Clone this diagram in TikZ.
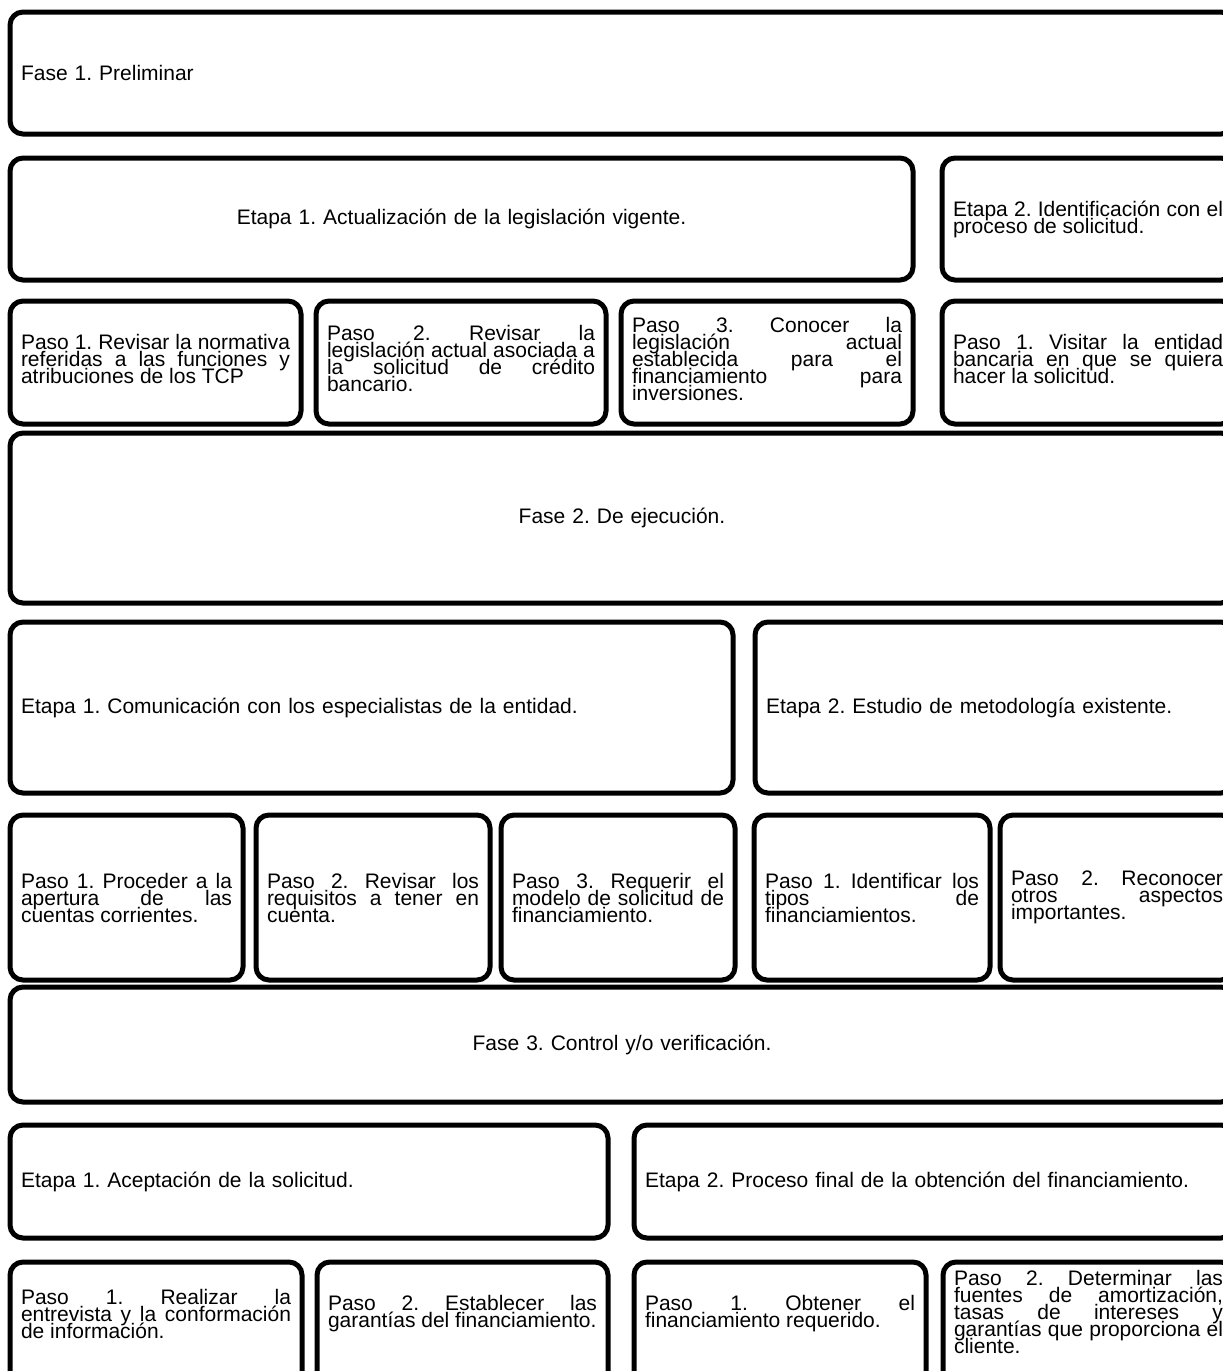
\documentclass[tikz,border=0pt]{standalone}
\usepackage{fontspec}
\setmainfont{Liberation Sans}

\tikzset{
	caja/.style = {draw, line width = 5pt, rounded corners = 13pt,
		inner xsep = 11pt, inner ysep = 0pt, outer sep = 0pt, align = justify, font = \textoitem},
	texto/.style = {inner sep = 0pt, align = justify, font = \textoitem}
}
\newcommand{\textoitem}{\fontsize{21}{17}\selectfont\frenchspacing\lineskiplimit=-50pt\hyphenpenalty=10000\tolerance=9999\relax}
\newcommand{\subir}{\par\kern 8pt\relax}

\begin{document}
\begin{tikzpicture}[x = 1pt, y = -1pt]

	\useasboundingbox (0, 0) rectangle (1223, 1371);
	\clip (0, 0) rectangle (1223, 1371);

	% Fase 1
	
	\node [caja, minimum width = 1224pt, minimum height = 122pt, text width = 1202pt, align = left] (fase1) at (622, 73) {Fase 1. Preliminar};
	
	\node [caja, minimum width = 903pt, minimum height = 122pt, text width = 881pt, align = center] (etapa11) at (461.5, 219) {Etapa 1. Actualización de la legislación vigente.};
	\node [caja, minimum width = 292pt, minimum height = 122pt, text width = 270pt] (etapa12) at (1088, 219) {Etapa 2. Identificación con el\linebreak proceso de solicitud.};
	
	\node [caja, minimum width = 291pt, minimum height = 123pt, text width = 269pt] (paso111) at (155.5, 362.5) {Paso 1. Revisar la normativa\linebreak referidas a las funciones y\linebreak atribuciones de los TCP\subir};
	\node [caja, minimum width = 290pt, minimum height = 123pt, text width = 268pt] (paso112) at (461, 362.5) {Paso 2. Revisar la\linebreak legislación actual asociada a\linebreak la solicitud de crédito\linebreak bancario.\subir};
	\node [caja, minimum width = 292pt, minimum height = 123pt, text width = 270pt] (paso113) at (767, 362.5) {Paso 3. Conocer la\linebreak legislación actual\linebreak establecida para el\linebreak financiamiento para\linebreak inversiones.\subir};
	\node [caja, minimum width = 292pt, minimum height = 123pt, text width = 270pt] (paso121) at (1088, 362.5) {Paso 1. Visitar la entidad\linebreak bancaria en que se quiera\linebreak hacer la solicitud.\subir};
	
	% Fase 2
	
	\node [caja, minimum width = 1224pt, minimum height = 170pt, text width = 1202pt, align = center] (fase2) at (622, 518) {Fase 2. De ejecución.};
	
	\node [caja, minimum width = 723pt, minimum height = 171pt, text width = 701pt, align = left] (etapa21) at (371.5, 707.5) {Etapa 1. Comunicación con los especialistas de la entidad.};
	\node [caja, minimum width = 479pt, minimum height = 171pt, text width = 457pt, align = left] (etapa22) at (994.5, 707.5) {Etapa 2. Estudio de metodología existente.};
	
	\node [caja, minimum width = 233pt, minimum height = 165pt, text width = 211pt] (paso211) at (126.5, 897.5) {Paso 1. Proceder a la\linebreak apertura de las\linebreak cuentas corrientes.};
	\node [caja, minimum width = 234pt, minimum height = 165pt, text width = 212pt] (paso212) at (373, 897.5) {Paso 2. Revisar los\linebreak requisitos a tener en\linebreak cuenta.};
	\node [caja, minimum width = 234pt, minimum height = 165pt, text width = 212pt] (paso213) at (618, 897.5) {Paso 3. Requerir el\linebreak modelo de solicitud de\linebreak financiamiento.};
	\node [caja, minimum width = 236pt, minimum height = 165pt, text width = 214pt] (paso221) at (872, 897.5) {Paso 1. Identificar los\linebreak tipos de\linebreak financiamientos.};
	\node [caja, minimum width = 234pt, minimum height = 165pt, text width = 212pt] (paso222) at (1117, 897.5) {Paso 2. Reconocer\linebreak otros aspectos\linebreak importantes.};
	
	% Fase 3
	
	\node [caja, minimum width = 1224pt, minimum height = 115pt, text width = 1202pt, align = center] (fase3) at (622, 1044.5) {Fase 3. Control y/o verificación.};
	
	\node [caja, minimum width = 598pt, minimum height = 113pt, text width = 576pt, align = left] (etapa31) at (309, 1181.5) {Etapa 1. Aceptación de la solicitud.};
	\node [caja, minimum width = 600pt, minimum height = 113pt, text width = 578pt, align = left] (etapa32) at (934, 1181.5) {Etapa 2. Proceso final de la obtención del financiamiento.};
	
	\node [caja, minimum width = 292pt, minimum height = 158pt] (paso311) at (156, 1341) {};
	\node [caja, minimum width = 291pt, minimum height = 158pt] (paso312) at (462.5, 1341) {};
	\node [caja, minimum width = 292pt, minimum height = 158pt] (paso321) at (780, 1341) {};
	\node [caja, minimum width = 291pt, minimum height = 158pt] (paso322) at (1088.5, 1341) {};
	
	\node [texto, text width = 270pt] (paso311t) at (156, 1314) {Paso 1. Realizar la\linebreak entrevista y la conformación\linebreak de información.};
	\node [texto, text width = 269pt] (paso312t) at (462.5, 1314) {Paso 2. Establecer las\linebreak garantías del financiamiento.};
	\node [texto, text width = 270pt] (paso321t) at (780, 1314) {Paso 1. Obtener el\linebreak financiamiento requerido.};
	\node [texto, text width = 269pt] (paso322t) at (1088.5, 1312) {Paso 2. Determinar las\linebreak fuentes de amortización,\linebreak tasas de intereses y\linebreak garantías que proporciona el\linebreak cliente.};

\end{tikzpicture}
\end{document}
